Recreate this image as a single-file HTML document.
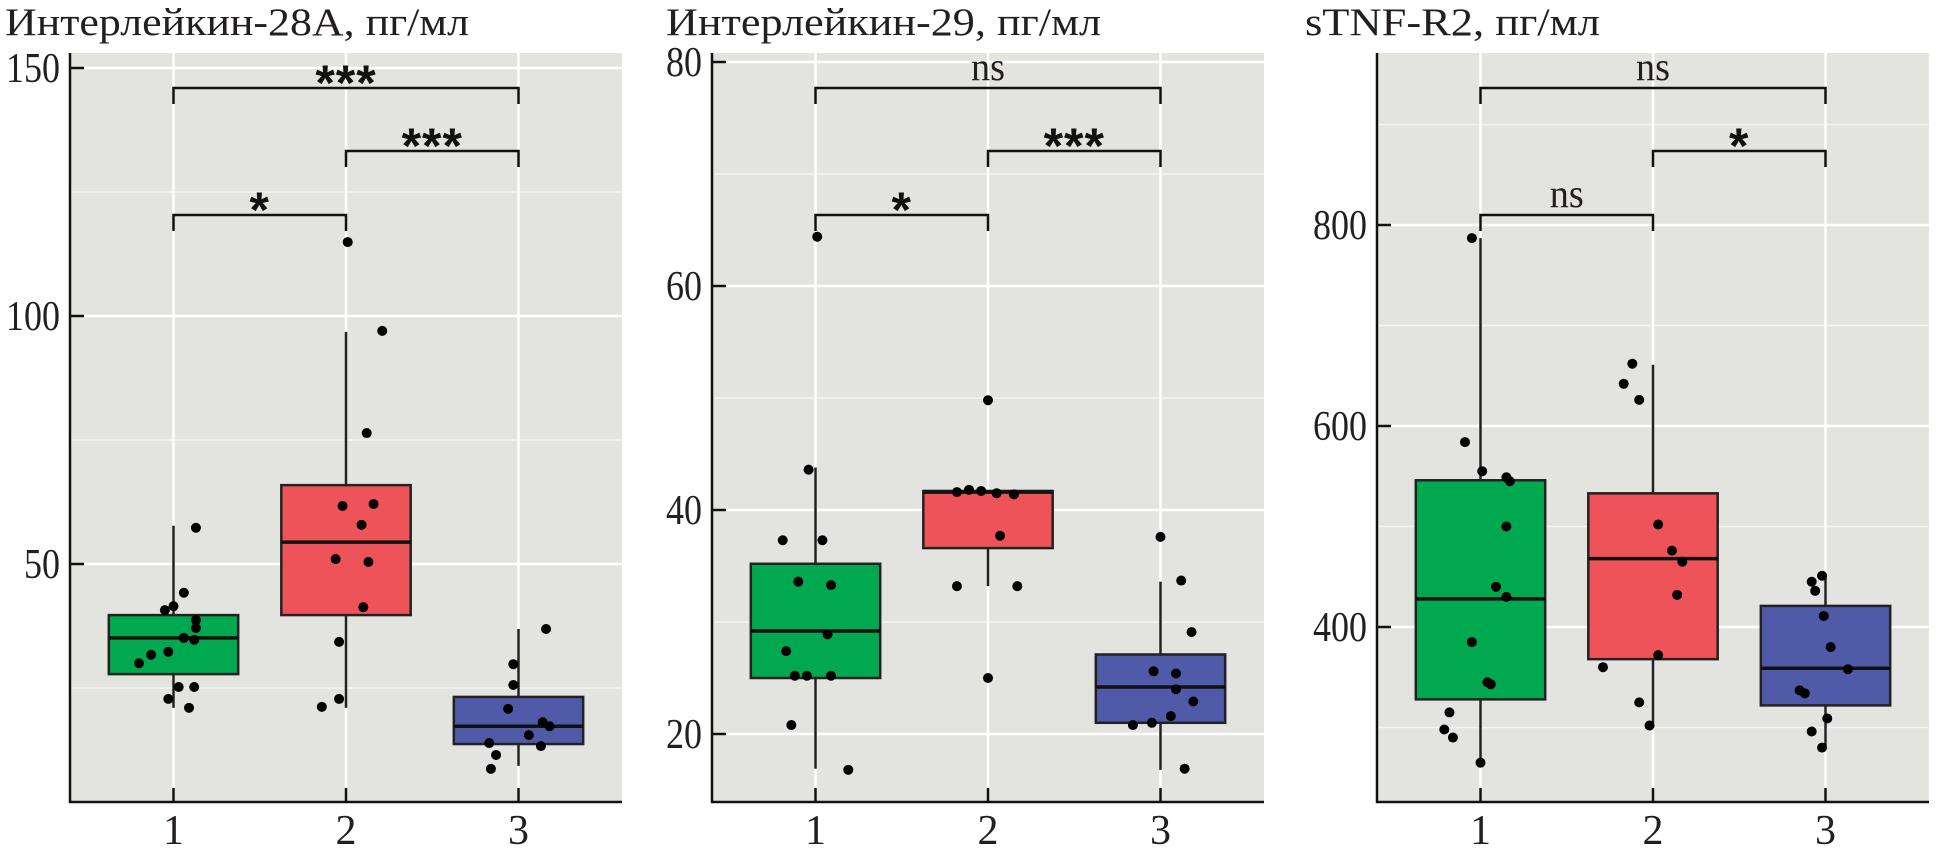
<!DOCTYPE html>
<html><head><meta charset="utf-8"><style>
html,body{margin:0;padding:0;background:#fff}
svg{display:block}
.t{font-family:"Liberation Serif","Noto Serif CJK SC",serif;fill:#231f20}
.st{font-family:"Liberation Sans",sans-serif;font-weight:bold;fill:#111}
</style></head><body>
<svg id="chart" width="1940" height="855" viewBox="0 0 1940 855" xmlns="http://www.w3.org/2000/svg"></svg>
<script>
// ---- Panel 1: Interleukin-28A ----
const categories = ['1','2','3'];
const p1Title = 'Интерлейкин-28А, пг/мл';
const p1Ticks = [50,100,150];
const p1Minor = [25,75,125];
const p1Box = [[21.0,27.8,35.1,39.7,57.7],[21.0,39.7,54.4,65.9,96.8],[9.3,13.7,17.3,23.2,36.9]];
const p1Pts1 = [57.3,44.2,41.5,40.7,38.7,37.1,35.1,34.7,32.3,31.7,30.0,25.2,25.2,22.8,21.0];
const p1Jit1 = [0.13,0.06,0,-0.05,0.13,0.13,0.06,0.12,-0.03,-0.13,-0.2,0.03,0.12,-0.03,0.09];
const p1Pts2 = [114.9,97.0,76.4,62.1,61.7,57.9,51.0,50.4,41.3,34.3,22.8,21.2];
const p1Jit2 = [0.01,0.21,0.12,0.16,-0.02,0.09,-0.06,0.13,0.1,-0.04,-0.04,-0.14];
const p1Pts3 = [36.9,29.8,25.6,20.8,18.1,17.3,15.5,13.9,13.3,11.5,8.7];
const p1Jit3 = [0.16,-0.03,-0.03,-0.06,0.14,0.18,0.06,-0.17,0.13,-0.13,-0.16];
const p1Sig = ['***','***','*'];
// ---- Panel 2: Interleukin-29 ----
const p2Title = 'Интерлейкин-29, пг/мл';
const p2Ticks = [20,40,60,80];
const p2Minor = [30,50,70];
const p2Box = [[16.9,25.0,29.2,35.2,43.8],[33.2,36.6,41.6,41.7,41.7],[16.8,21.0,24.2,27.1,33.6]];
const p2Pts1 = [64.4,43.6,37.3,37.3,33.6,33.3,28.9,27.4,25.2,25.2,25.2,20.8,16.8];
const p2Jit1 = [0.01,-0.04,-0.19,0.04,-0.1,0.09,0.07,-0.17,-0.12,-0.05,0.09,-0.14,0.19];
const p2Pts2 = [49.8,41.6,41.8,41.7,41.5,41.4,37.7,33.2,33.2,25.0];
const p2Jit2 = [0,-0.18,-0.11,-0.04,0.05,0.15,0.07,-0.18,0.17,0];
const p2Pts3 = [37.6,33.7,29.1,25.4,25.6,24.0,22.9,21.6,21.0,20.8,16.9];
const p2Jit3 = [0,0.12,0.18,0.09,-0.04,0.09,0.19,0.06,-0.05,-0.16,0.14];
const p2Sig = ['ns','***','*'];
// ---- Panel 3: sTNF-R2 ----
const p3Title = 'sTNF-R2, пг/мл';
const p3Ticks = [400,600,800];
const p3Minor = [300,500,700,900];
const p3Box = [[265,328,428,546,787],[304,368,468,533,661],[280,322,359,421,451]];
const p3Pts1 = [787,584,555,549,545,500,440,430,385,345,343,315,298,290,265];
const p3Jit1 = [-0.05,-0.09,0.01,0.15,0.17,0.15,0.09,0.15,-0.05,0.04,0.06,-0.18,-0.21,-0.16,0];
const p3Pts2 = [662,642,626,502,476,465,432,372,360,325,302];
const p3Jit2 = [-0.12,-0.17,-0.08,0.03,0.11,0.17,0.14,0.03,-0.29,-0.08,-0.02];
const p3Pts3 = [451,445,436,411,380,358,337,334,309,296,280];
const p3Jit3 = [-0.02,-0.08,-0.06,-0.01,0.03,0.13,-0.15,-0.12,0.01,-0.08,-0.02];
const p3Sig = ['ns','*','ns'];

const colors = ['#00a94f','#ef535a','#4f5aa8'];
const svg = document.getElementById('chart');
const NS = 'http://www.w3.org/2000/svg';
function mk(tag, attrs, parent){const e=document.createElementNS(NS,tag);for(const k in attrs)e.setAttribute(k,attrs[k]);(parent||svg).appendChild(e);return e;}

function panel(cfg){
  const g = mk('g',{});
  
  
  const top=53,bottom=802,left=cfg.left,w=552,unit=w/3.2;
  const x = i => left + unit*(0.6+i);
  const y = v => cfg.y0 + (cfg.v0 - v)*cfg.k;
  const bg = mk('rect',{x:left,y:top,width:w,height:bottom-top,fill:'#e3e3e0'},g);
  
  
  cfg.minor.forEach(v=>{const yy=y(v); if(yy>top&&yy<bottom){const l=mk('line',{x1:left,x2:left+w,y1:yy,y2:yy,stroke:'#f4f4f2','stroke-width':1.5},g);
    
    }});
  cfg.ticks.forEach(v=>{const yy=y(v);const l=mk('line',{x1:left,x2:left+w,y1:yy,y2:yy,stroke:'#fff','stroke-width':2.5},g);
    
    });
  categories.forEach((c,i)=>{const l=mk('line',{x1:x(i),x2:x(i),y1:top,y2:bottom,stroke:'#fff','stroke-width':2.5},g);
    
    });
  cfg.box.forEach((b,i)=>{
    const bx=mk('g',{},g);
    
    
    const hw=unit*0.375;
    mk('line',{x1:x(i),x2:x(i),y1:y(b[0]),y2:y(b[4]),stroke:'#222','stroke-width':2.5},bx);
    mk('rect',{x:x(i)-hw,y:y(b[3]),width:2*hw,height:y(b[1])-y(b[3]),fill:colors[i],stroke:'#222','stroke-width':2.5},bx);
    mk('line',{x1:x(i)-hw,x2:x(i)+hw,y1:y(b[2]),y2:y(b[2]),stroke:'#111','stroke-width':3.5},bx);
  });
  cfg.pts.forEach((arr,i)=>{arr.forEach((v,j)=>{
    const p=mk('circle',{cx:x(i+cfg.jit[i][j]),cy:y(v),r:5,fill:'#000'},g);
    
    
  });});
  const ax=mk('line',{x1:left,x2:left,y1:top,y2:bottom+1,stroke:'#111','stroke-width':2.5},g);
  
  
  const axx=mk('line',{x1:left-1,x2:left+w,y1:bottom,y2:bottom,stroke:'#111','stroke-width':2.5},g);
  
  
  cfg.ticks.forEach(v=>{const yy=y(v);
    mk('line',{x1:left,x2:left+14,y1:yy,y2:yy,stroke:'#111','stroke-width':2.5},g);
    const s=String(v);
    const t=mk('text',{x:left-10,y:yy+14,'text-anchor':'end','font-size':42,class:'t',textLength:s.length*18,lengthAdjust:'spacingAndGlyphs'},g);
    t.textContent=s;
    
    });
  categories.forEach((c,i)=>{
    mk('line',{x1:x(i),x2:x(i),y1:bottom-14,y2:bottom,stroke:'#111','stroke-width':2.5},g);
    const t=mk('text',{x:x(i),y:844,'text-anchor':'middle','font-size':42,class:'t'},g);
    t.textContent=c;
    
    });
  const tt=mk('text',{x:cfg.tx,y:35,'font-size':39,class:'t',textLength:cfg.tw,lengthAdjust:'spacingAndGlyphs'},g);
  tt.textContent=cfg.title;
  
  
  const pairs=[[0,2,88],[1,2,151],[0,1,215]];
  pairs.forEach((p,k)=>{
    const br=mk('g',{},g);
    
    
    const yb=p[2];
    mk('path',{d:`M${x(p[0])},${yb+16}V${yb}H${x(p[1])}V${yb+16}`,fill:'none',stroke:'#111','stroke-width':2.5},br);
    const lab=cfg.sig[k];const mx=(x(p[0])+x(p[1]))/2;
    let t;
    if(lab==='ns'){t=mk('text',{x:mx,y:yb-8,'text-anchor':'middle','font-size':40,class:'t',textLength:34,lengthAdjust:'spacingAndGlyphs'},br);}
    else{t=mk('text',{x:mx,y:yb+12,'text-anchor':'middle','font-size':50,class:'st','letter-spacing':'1'},br);}
    t.textContent=lab;
    
    
  });
}
panel({name:'panel-il28a',left:70,y0:564,v0:50,k:4.96,ticks:p1Ticks,minor:p1Minor,box:p1Box,pts:[p1Pts1,p1Pts2,p1Pts3],jit:[p1Jit1,p1Jit2,p1Jit3],sig:p1Sig,title:p1Title,tx:5,tw:464});
panel({name:'panel-il29',left:712,y0:62,v0:80,k:11.2,ticks:p2Ticks,minor:p2Minor,box:p2Box,pts:[p2Pts1,p2Pts2,p2Pts3],jit:[p2Jit1,p2Jit2,p2Jit3],sig:p2Sig,title:p2Title,tx:666,tw:435});
panel({name:'panel-stnf-r2',left:1377,y0:225,v0:800,k:1.005,ticks:p3Ticks,minor:p3Minor,box:p3Box,pts:[p3Pts1,p3Pts2,p3Pts3],jit:[p3Jit1,p3Jit2,p3Jit3],sig:p3Sig,title:p3Title,tx:1305,tw:295});
</script>
</body></html>
